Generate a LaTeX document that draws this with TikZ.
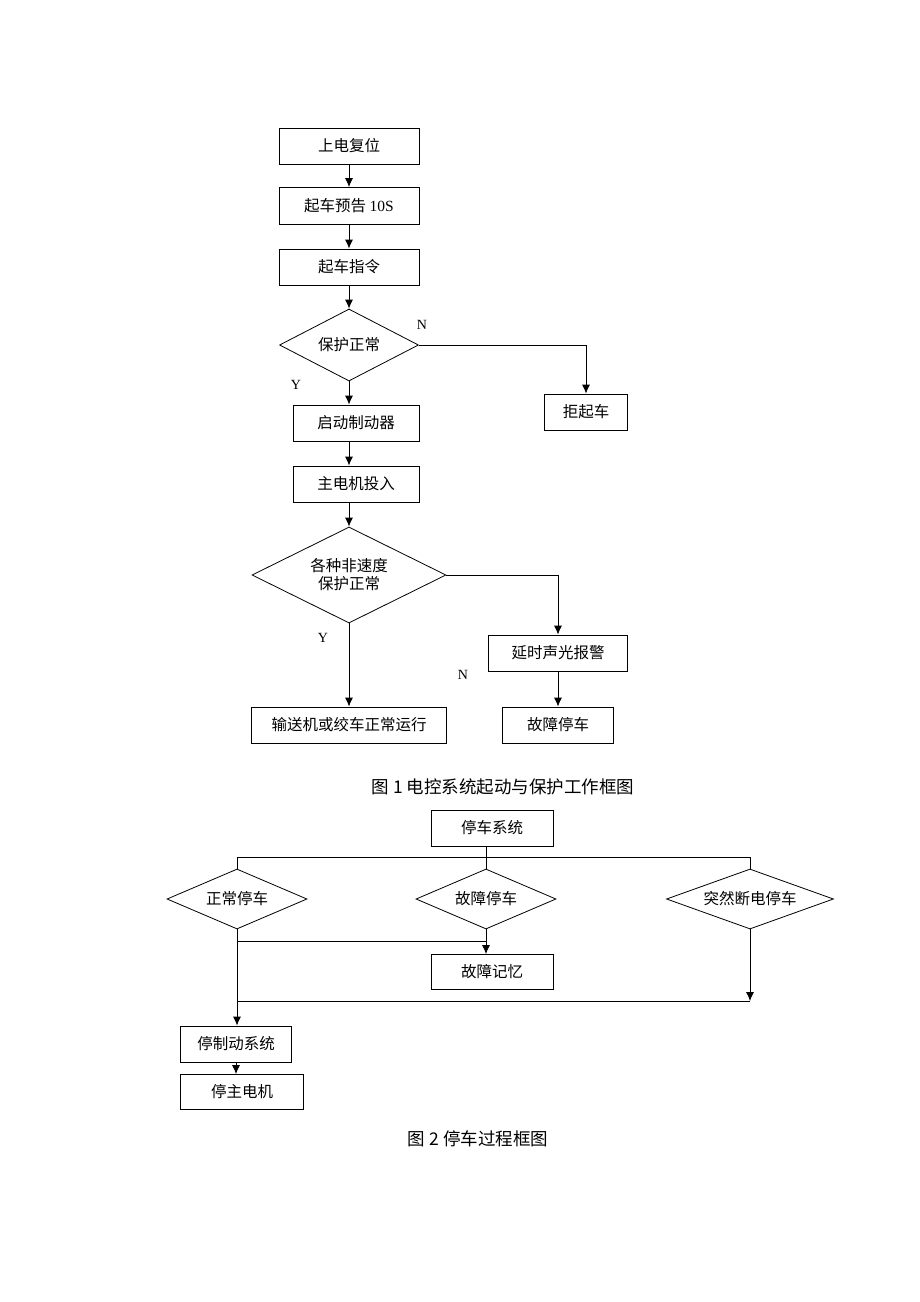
\documentclass[tikz,border=0pt]{standalone}
\usepackage{fontspec}
\setmainfont{Liberation Serif}
\newfontfamily\cjk{Noto Sans CJK SC}
\usetikzlibrary{shapes.geometric,arrows.meta}

\begin{document}
\begin{tikzpicture}[x=1pt,y=-1pt]
  \fill [white] (0,0) rectangle (920,1302);  % page frame
  \tikzstyle{box}=[draw, line width=0.8pt, inner sep=0pt, font=\cjk\fontsize{15.5}{18}\selectfont]
  \tikzstyle{dec}=[draw, diamond, aspect=2.8, line width=0.8pt, inner sep=0pt, align=center, font=\cjk\fontsize{15.5}{18}\selectfont]
  \tikzstyle{yn}=[font=\fontsize{14}{16}\selectfont]
  \tikzstyle{figcap}=[font=\cjk\fontsize{17.5}{20}\selectfont]
  \tikzstyle{arr}=[line width=0.8pt, -{Latex[length=9pt,width=8pt]}]
  \tikzstyle{ln}=[line width=0.8pt]

  % Bild 1
  \node[box, minimum width=140, minimum height=36] (reset) at (349,146) {上电复位};
  \node[box, minimum width=140, minimum height=37] (warn)  at (349,206) {起车预告 {\rmfamily 10S}};
  \node[box, minimum width=140, minimum height=36] (cmd)   at (349,267) {起车指令};
  \node[dec, minimum width=139, minimum height=72] (prot)  at (349,345) {保护正常};
  \node[box, minimum width=83,  minimum height=36] (deny)  at (586,412) {拒起车};
  \node[box, minimum width=126, minimum height=36] (brake) at (356,423) {启动制动器};
  \node[box, minimum width=126, minimum height=36] (motor) at (356,484) {主电机投入};
  \node[dec, aspect=2, minimum width=194, minimum height=96] (nspd) at (349,575) {各种非速度\\保护正常};
  \node[box, minimum width=139, minimum height=36] (alarm) at (558,653) {延时声光报警};
  \node[box, minimum width=195, minimum height=36] (run)   at (349,725) {输送机或绞车正常运行};
  \node[box, minimum width=111, minimum height=36] (fault) at (558,725) {故障停车};

  \node[yn] (n1) at (422,325) {N};
  \node[yn] (y1) at (296,385) {Y};
  \node[yn] (y2) at (323,638) {Y};
  \node[yn] (n2) at (463,675) {N};

  \draw[arr] (reset) -- (warn);
  \draw[arr] (warn) -- (cmd);
  \draw[arr] (cmd) -- (prot);
  \draw[arr] (prot.east) -| (deny.north);
  \draw[arr] (prot.south) -- (prot.south |- brake.north);
  \draw[arr] (prot.south |- brake.south) -- (prot.south |- motor.north);
  \draw[arr] (prot.south |- motor.south) -- (nspd.north);
  \draw[arr] (nspd.east) -| (alarm.north);
  \draw[arr] (nspd.south) -- (run.north);
  \draw[arr] (alarm) -- (fault);

  \node[figcap] (cap1) at (503,787) {图 1 电控系统起动与保护工作框图};

  % Bild 2
  \node[box, minimum width=122, minimum height=36] (sys)  at (492,828) {停车系统};
  \node[dec, minimum width=140, minimum height=60] (norm) at (237,899) {正常停车};
  \node[dec, minimum width=140, minimum height=60] (flt)  at (486,899) {故障停车};
  \node[dec, aspect=3, minimum width=167, minimum height=60] (pwr) at (750,899) {突然断电停车};
  \node[box, minimum width=122, minimum height=35] (mem)  at (492,972) {故障记忆};
  \node[box, minimum width=111, minimum height=36] (sbr)  at (236,1044) {停制动系统};
  \node[box, minimum width=123, minimum height=35] (smot) at (242,1092) {停主电机};

  \coordinate (bus1) at (486,857);
  \coordinate (bus2) at (486,941);
  \coordinate (bus3) at (486,1001);

  \draw[ln] (sys.south -| bus1) -- (flt.north);
  \draw[ln] (norm.north) -- (norm.north |- bus1) -- (pwr.north |- bus1) -- (pwr.north);
  \draw[arr] (flt.south) -- (flt.south |- mem.north);
  \draw[ln] (norm.south |- bus2) -- (bus2);
  \draw[arr] (norm.south) -- (norm.south |- sbr.north);
  \draw[ln] (norm.south |- bus3) -- (pwr.south |- bus3);
  \draw[arr] (pwr.south) -- (pwr.south |- bus3);
  \draw[arr] (sbr.south) -- (sbr.south |- smot.north);

  \node[figcap] (cap2) at (478,1139) {图 2 停车过程框图};
\end{tikzpicture}
\end{document}
